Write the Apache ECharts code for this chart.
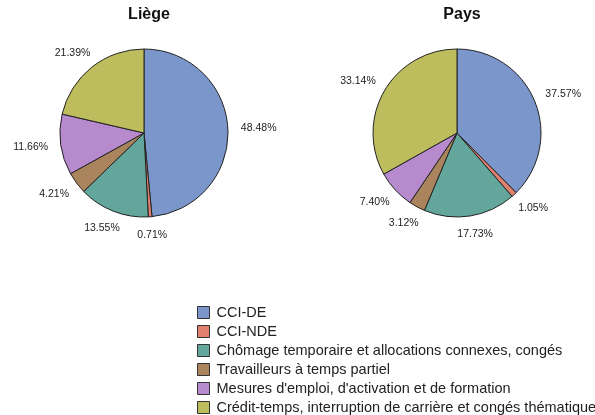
<!DOCTYPE html>
<html>
<head>
<meta charset="utf-8">
<script src="https://cdn.jsdelivr.net/npm/echarts@6/dist/echarts.min.js"></script>
<style>
  html, body { margin: 0; padding: 0; background: #fff; }
  #chart { width: 595px; height: 415px; }
</style>
</head>
<body>
<div id="chart"></div>
<script>
// categories (legend order = slice order, clockwise from top)
var categories = [
    'CCI-DE',
    'CCI-NDE',
    'Chômage temporaire et allocations connexes, congés',
    'Travailleurs à temps partiel',
    "Mesures d'emploi, d'activation et de formation",
    'Crédit-temps, interruption de carrière et congés thématiques'
];
var colors = ['#7b96ca', '#e2806f', '#63a79c', '#a9845c', '#b78ace', '#bebd5e'];
var liegeValues = [48.48, 0.71, 13.55, 4.21, 11.66, 21.39];
var paysValues = [37.57, 1.05, 17.73, 3.12, 7.40, 33.14];
var FONT = 'Liberation Sans, Arial, sans-serif';

function toData(vals) {
    var d_ = [];
    for (var i = 0; i < vals.length; i++) {
        d_.push({ name: categories[i], value: vals[i] });
    }
    return d_;
}

// angle du milieu de la part (clockwise depuis le haut)
function midAngle(vals, idx) {
    var sum = 0, before = 0;
    for (var i = 0; i < vals.length; i++) {
        sum += vals[i];
        if (i < idx) before += vals[i];
    }
    return (before + vals[idx] / 2) / sum * Math.PI * 2;
}

function pieSeries(name, vals, cx) {
    return {
        type: 'pie',
        name: name,
        center: [cx, 133],
        radius: [0, 84],
        startAngle: 90,
        clockwise: true,
        avoidLabelOverlap: false,
        animation: false,
        itemStyle: { borderColor: '#222', borderWidth: 1 },
        label: {
            show: true,
            position: 'outside',
            distanceToLabelLine: 0,
            fontFamily: FONT,
            fontSize: 10.5,
            color: '#222',
            formatter: function (p) { return p.value.toFixed(2) + '%'; }
        },
        labelLine: { show: false, length: 13, length2: 0 },
        // la boîte du texte se pose à distance fixe du bord
        labelLayout: function (p) {
            var a = midAngle(vals, p.dataIndex);
            var w = p.labelRect.width, h = p.labelRect.height;
            return {
                align: 'center',
                verticalAlign: 'middle',
                dx: Math.sin(a) * w / 2,
                dy: -Math.cos(a) * h / 2
            };
        },
        emphasis: { disabled: true },
        data: toData(vals)
    };
}

var myChart = echarts.init(document.getElementById('chart'));
myChart.setOption({
    color: colors,
    title: [
        { text: 'Liège', left: 144, top: 2, textAlign: 'center',
          textStyle: { fontFamily: FONT, fontSize: 16, fontWeight: 'bold', color: '#111' } },
        { text: 'Pays', left: 457, top: 2, textAlign: 'center',
          textStyle: { fontFamily: FONT, fontSize: 16, fontWeight: 'bold', color: '#111' } }
    ],
    legend: {
        orient: 'vertical',
        left: 197,
        top: 305,
        height: 120,
        itemWidth: 12,
        itemHeight: 12,
        itemGap: 4,
        icon: 'rect',
        selectedMode: false,
        padding: 0,
        itemStyle: { borderColor: '#333', borderWidth: 1 },
        textStyle: { fontFamily: FONT, fontSize: 14.5, lineHeight: 14, color: '#222', padding: [0, 0, 0, 2] },
        data: categories
    },
    series: [
        pieSeries('Liège', liegeValues, 144),
        pieSeries('Pays', paysValues, 457)
    ]
});
</script>
</body>
</html>
